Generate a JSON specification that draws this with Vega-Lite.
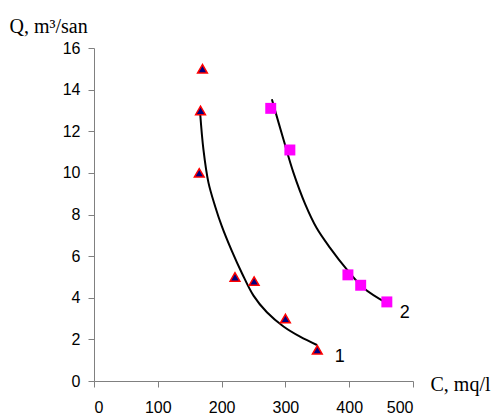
{
  "$schema": "https://vega.github.io/schema/vega-lite/v6.json",
  "width": 319,
  "height": 333,
  "autosize": {"type": "none"},
  "padding": {"left": 94, "top": 48, "right": 82, "bottom": 33},
  "background": "white",
  "config": {"view": {"stroke": null}},
  "datasets": {
    "points": [
      {"C": 170, "Q": 15.0, "series": "1"},
      {"C": 167, "Q": 13.0, "series": "1"},
      {"C": 165, "Q": 10.0, "series": "1"},
      {"C": 221, "Q": 5.0, "series": "1"},
      {"C": 251, "Q": 4.8, "series": "1"},
      {"C": 300, "Q": 3.0, "series": "1"},
      {"C": 350, "Q": 1.5, "series": "1"},
      {"C": 277, "Q": 13.1, "series": "2"},
      {"C": 307, "Q": 11.1, "series": "2"},
      {"C": 398, "Q": 5.1, "series": "2"},
      {"C": 418, "Q": 4.6, "series": "2"},
      {"C": 459, "Q": 3.8, "series": "2"}
    ],
    "curves": [
      {"C": 166.3, "Q": 12.9, "series": "1"},
      {"C": 171.5, "Q": 11.13, "series": "1"},
      {"C": 179.4, "Q": 9.53, "series": "1"},
      {"C": 189.8, "Q": 8.4, "series": "1"},
      {"C": 200.3, "Q": 7.44, "series": "1"},
      {"C": 216, "Q": 6.25, "series": "1"},
      {"C": 231.7, "Q": 5.19, "series": "1"},
      {"C": 250, "Q": 4.1, "series": "1"},
      {"C": 271, "Q": 3.3, "series": "1"},
      {"C": 297, "Q": 2.62, "series": "1"},
      {"C": 323, "Q": 2.13, "series": "1"},
      {"C": 349.4, "Q": 1.73, "series": "1"},
      {"C": 278.8, "Q": 13.54, "series": "2"},
      {"C": 297, "Q": 11.6, "series": "2"},
      {"C": 312.7, "Q": 10.0, "series": "2"},
      {"C": 331, "Q": 8.5, "series": "2"},
      {"C": 349, "Q": 7.35, "series": "2"},
      {"C": 370, "Q": 6.4, "series": "2"},
      {"C": 396.5, "Q": 5.35, "series": "2"},
      {"C": 422.5, "Q": 4.47, "series": "2"},
      {"C": 459, "Q": 3.74, "series": "2"}
    ],
    "labels": [
      {"C": 385, "Q": 1.14, "text": "1"},
      {"C": 487, "Q": 3.29, "text": "2"}
    ]
  },
  "encoding": {
    "x": {
      "field": "C", "type": "quantitative",
      "scale": {"domain": [0, 500], "nice": false, "zero": false},
      "axis": {
        "values": [0, 100, 200, 300, 400, 500],
        "grid": false,
        "domainColor": "#808080", "tickColor": "#808080",
        "tickSize": 6, "labelPadding": 12,
        "labelFont": "Liberation Sans", "labelFontSize": 16, "labelColor": "#000000",
        "title": "C, mq/l", "titleFont": "Liberation Serif", "titleFontSize": 20,
        "titleFontWeight": "normal", "titleColor": "#000000",
        "titleAlign": "left", "titleBaseline": "alphabetic",
        "titleX": 336, "titleY": 9, "titleAngle": 0
      }
    },
    "y": {
      "field": "Q", "type": "quantitative",
      "scale": {"domain": [0, 16], "nice": false, "zero": false},
      "axis": {
        "values": [0, 2, 4, 6, 8, 10, 12, 14, 16],
        "grid": false,
        "domainColor": "#808080", "tickColor": "#808080",
        "tickSize": 6, "labelPadding": 8,
        "labelFont": "Liberation Sans", "labelFontSize": 16, "labelColor": "#000000",
        "title": "Q, m³/san", "titleFont": "Liberation Serif", "titleFontSize": 20,
        "titleFontWeight": "normal", "titleColor": "#000000",
        "titleAlign": "left", "titleBaseline": "alphabetic",
        "titleX": -85, "titleY": -16, "titleAngle": 0
      }
    }
  },
  "layer": [
    {
      "data": {"name": "curves"},
      "mark": {"type": "line", "color": "#000000", "strokeWidth": 2, "interpolate": "catmull-rom"},
      "encoding": {"detail": {"field": "series"}}
    },
    {
      "data": {"name": "points"},
      "transform": [{"filter": "datum.series === '1'"}],
      "mark": {"type": "point", "shape": "triangle-up", "filled": true, "fill": "#000080", "stroke": "#ff0000", "strokeWidth": 1.5, "size": 95, "opacity": 1}
    },
    {
      "data": {"name": "points"},
      "transform": [{"filter": "datum.series === '2'"}],
      "mark": {"type": "square", "color": "#ff00ff", "size": 120, "opacity": 1}
    },
    {
      "data": {"name": "labels"},
      "mark": {"type": "text", "font": "Liberation Sans", "fontSize": 18, "color": "#000000", "align": "center", "baseline": "middle"},
      "encoding": {"text": {"field": "text"}}
    }
  ]
}
